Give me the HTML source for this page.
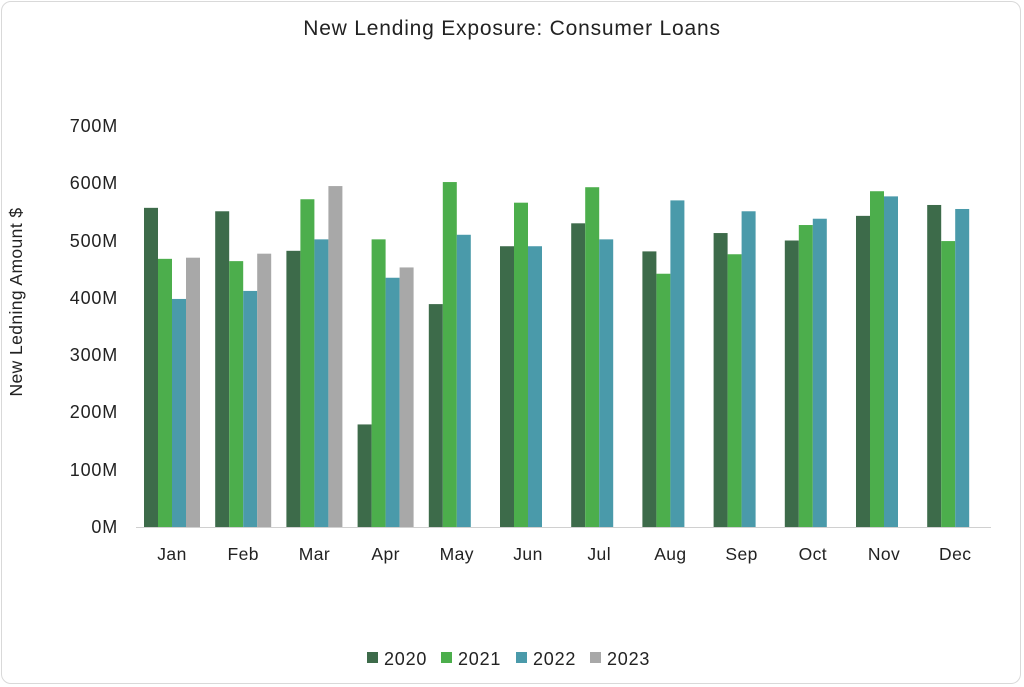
<!DOCTYPE html>
<html><head><meta charset="utf-8"><style>
body{margin:0;background:#fff;}
.card{position:absolute;left:1px;top:1px;width:1020px;height:683px;border:1px solid #d9d9d9;border-radius:10px;box-sizing:border-box;}
text{font-family:"Liberation Sans",sans-serif;fill:#222;}
</style></head><body>
<div class="card"></div>
<svg width="1024" height="687" style="position:absolute;left:0;top:0">
<text x="512" y="35" font-size="21" letter-spacing="0.8" text-anchor="middle">New Lending Exposure: Consumer Loans</text>
<text transform="translate(22,302) rotate(-90)" font-size="17.5" letter-spacing="0.4" text-anchor="middle">New Ledning Amount $</text>
<g font-size="18" letter-spacing="0.8" text-anchor="end">
<text x="118" y="533">0M</text><text x="118" y="476">100M</text><text x="118" y="418">200M</text><text x="118" y="361">300M</text><text x="118" y="304">400M</text><text x="118" y="247">500M</text><text x="118" y="189">600M</text><text x="118" y="132">700M</text>
</g>
<line x1="136" y1="527.5" x2="991" y2="527.5" stroke="#d0d0d0"/>
<g id="bars"></g>
<g font-size="17.5" letter-spacing="0.4" text-anchor="middle" id="lbl"></g>
<g font-size="18" letter-spacing="0.8">
<rect x="367" y="652" width="11" height="11" fill="#3d6b4a"/><text x="384" y="665">2020</text>
<rect x="441" y="652" width="11" height="11" fill="#4cae4c"/><text x="458" y="665">2021</text>
<rect x="516" y="652" width="11" height="11" fill="#4a9aaa"/><text x="533" y="665">2022</text>
<rect x="590" y="652" width="11" height="11" fill="#a8a8a8"/><text x="607" y="665">2023</text>
</g>
</svg>
<script>
var d=[["Jan",557,468,398,470],["Feb",551,464,412,477],["Mar",482,572,502,595],["Apr",179,502,435,453],["May",389,602,510],["Jun",490,566,490],["Jul",530,593,502],["Aug",481,442,570],["Sep",513,476,551],["Oct",500,527,538],["Nov",543,586,577],["Dec",562,499,555]];
var c=["#3d6b4a","#4cae4c","#4a9aaa","#a8a8a8"];var ns="http://www.w3.org/2000/svg";
var b=document.getElementById("bars"),l=document.getElementById("lbl");
d.forEach(function(r,i){var cx=172+i*71.2;
for(var k=1;k<r.length;k++){var h=r[k]*0.573;var e=document.createElementNS(ns,"rect");
e.setAttribute("x",cx-28+(k-1)*14);e.setAttribute("y",527-h);e.setAttribute("width",14);e.setAttribute("height",h);e.setAttribute("fill",c[k-1]);b.appendChild(e);}
var t=document.createElementNS(ns,"text");t.setAttribute("x",cx);t.setAttribute("y",560);t.textContent=r[0];l.appendChild(t);});
</script>
</body></html>
